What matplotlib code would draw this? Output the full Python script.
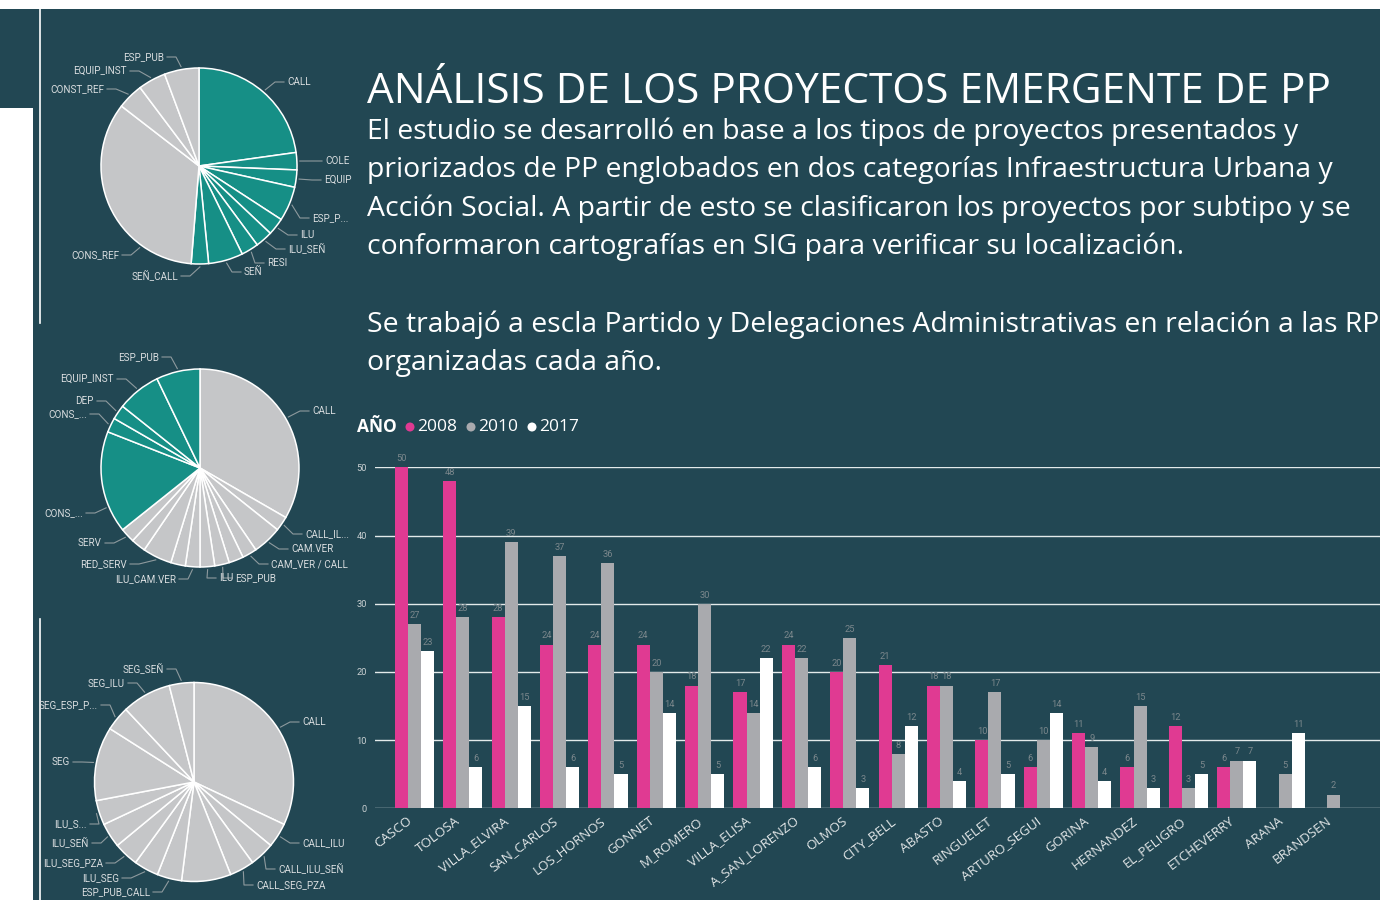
import numpy as np
import matplotlib
matplotlib.use("Agg")
import matplotlib.pyplot as plt
from matplotlib.patches import Rectangle, Circle
from matplotlib.transforms import blended_transform_factory

# ---------------- data ----------------
districts = ["CASCO", "TOLOSA", "VILLA_ELVIRA", "SAN_CARLOS", "LOS_HORNOS", "GONNET",
             "M_ROMERO", "VILLA_ELISA", "A_SAN_LORENZO", "OLMOS", "CITY_BELL", "ABASTO",
             "RINGUELET", "ARTURO_SEGUI", "GORINA", "HERNANDEZ", "EL_PELIGRO",
             "ETCHEVERRY", "ARANA", "BRANDSEN"]
y2008 = [50, 48, 28, 24, 24, 24, 18, 17, 24, 20, 21, 18, 10, 6, 11, 6, 12, 6, np.nan, np.nan]
y2010 = [27, 28, 39, 37, 36, 20, 30, 14, 22, 25, 8, 18, 17, 10, 9, 15, 3, 7, 5, 2]
y2017 = [23, 6, 15, 6, 5, 14, 5, 22, 6, 3, 12, 4, 5, 14, 4, 3, 5, 7, 11, np.nan]
years = ["2008", "2010", "2017"]

pie1_labels = ["CALL", "COLE", "EQUIP", "ESP_P...", "ILU", "ILU_SEÑ", "RESI", "SEÑ",
               "SEÑ_CALL", "CONS_REF", "CONST_REF", "EQUIP_INST", "ESP_PUB"]
pie1_values = [8, 1, 1, 2, 1, 1, 1, 2, 1, 12, 1.5, 1.6, 2]
pie1_group = ["A"] * 9 + ["B"] * 4

pie2_labels = ["CALL", "CALL_IL...", "CAM.VER", "CAM_VER / CALL", "", "ESP_PUB", "ILU",
               "ILU_CAM.VER", "", "RED_SERV", "", "SERV", "CONS_...", "CONS_...", "DEP",
               "EQUIP_INST", "ESP_PUB"]
pie2_values = [14, 1, 2, 1, 1, 1, 1, 1, 1, 2, 1, 1, 7, 1, 1, 3, 3]
pie2_group = ["B"] * 12 + ["A"] * 5

pie3_labels = ["CALL", "CALL_ILU", "CALL_ILU_SEÑ", "CALL_SEG_PZA", "", "ESP_PUB_CALL",
               "ILU_SEG", "ILU_SEG_PZA", "ILU_SEÑ", "ILU_S...", "SEG", "SEG_ESP_P...",
               "SEG_ILU", "SEG_SEÑ"]
pie3_values = [8, 1, 1, 1, 2, 1, 1, 1, 1, 1, 3, 1, 2, 1]
pie3_group = ["B"] * 14

title = "ANÁLISIS DE LOS PROYECTOS EMERGENTE DE PP"
body = ["El estudio se desarrolló en base a los tipos de proyectos presentados y",
        "priorizados de PP englobados en dos categorías Infraestructura Urbana y",
        "Acción Social. A partir de esto se clasificaron los proyectos por subtipo y se",
        "conformaron cartografías en SIG para verificar su localización.",
        "Se trabajó a escla Partido y Delegaciones Administrativas en relación a las RP",
        "organizadas cada año."]

# ---------------- style ----------------
W, H = 1380, 900
BG = "#224753"
TEAL = "#168F86"
PGRAY = "#C5C6C8"
PINK = "#E03A92"
BGRAY = "#A9AAAE"
WHITE = "#FFFFFF"
LEADER = "#8E9A9E"
PLABEL = "#D9DDDF"
group_color = {"A": TEAL, "B": PGRAY}

fig = plt.figure(figsize=(W / 100, H / 100), dpi=100, facecolor="white")
bg = fig.add_axes([0, 0, 1, 1], zorder=0)
bg.set_xlim(0, W)
bg.set_ylim(H, 0)
bg.axis("off")
bg.add_patch(Rectangle((0, 9), W, H - 9, color=BG, lw=0))
bg.add_patch(Rectangle((0, 108), 33, H - 108, color="white", lw=0))
bg.plot([40, 40], [9, 323], color="white", lw=1.2)
bg.plot([40, 40], [619, 900], color="white", lw=1.2)


def draw_pie(cx, cy, r, values, groups, labels, layout):
    ax = fig.add_axes([(cx - r) / W, 1 - (cy + r) / H, 2 * r / W, 2 * r / H], zorder=1)
    ax.pie(values, colors=[group_color[g] for g in groups], startangle=90,
           counterclock=False, radius=1.0,
           wedgeprops=dict(edgecolor="white", linewidth=1.1))
    ax.set_xlim(-1, 1)
    ax.set_ylim(-1, 1)
    ax.axis("off")
    total = float(sum(values))
    cum = 0.0
    for v, lab, lay in zip(values, labels, layout):
        mid = 90 - (cum + v / 2) / total * 360
        cum += v
        if not lab or lay is None:
            continue
        tx, ty, side = lay[:3]
        ang = np.deg2rad(lay[3] if len(lay) > 3 else mid)
        axp = cx + r * 1.03 * np.cos(ang)
        ayp = cy - r * 1.03 * np.sin(ang)
        if side == "R":
            ex, hx, ha = tx - 12, tx - 3, "left"
        else:
            ex, hx, ha = tx + 12, tx + 3, "right"
        bg.plot([axp, ex, hx], [ayp, ty, ty], color=LEADER, lw=0.8)
        bg.text(tx, ty, lab, ha=ha, va="center", fontsize=7.1, family="Roboto",
                color=PLABEL)


pie1_layout = [(287, 82, "R"), (325, 161, "R"), (324, 180, "R"), (312, 218, "R"),
               (300, 235, "R"), (288, 249, "R"), (267, 263, "R"), (244, 272, "R"),
               (178, 276, "L"), (119, 255, "L", -126), (104, 89, "L"), (127, 71, "L"),
               (164, 57, "L")]
pie2_layout = [(312, 411, "R"), (305, 534, "R"), (291, 549, "R"), (271, 564, "R"), None,
               (235, 578, "R"), (219, 578, "R"), (176, 579, "L"), None, (127, 564, "L"),
               None, (102, 543, "L"), (83, 513, "L", -157), (87, 414, "L"), (94, 401, "L"),
               (114, 379, "L"), (159, 357, "L")]
pie3_layout = [(302, 722, "R"), (302, 843, "R"), (278, 869, "R"), (256, 885, "R"), None,
               (150, 892, "L"), (119, 878, "L"), (103, 863, "L"), (89, 843, "L"),
               (87, 824, "L"), (70, 762, "L", 169), (98, 705, "L"), (125, 683, "L"),
               (164, 669, "L")]

draw_pie(199, 166, 98, pie1_values, pie1_group, pie1_labels, pie1_layout)
draw_pie(200, 468, 99, pie2_values, pie2_group, pie2_labels, pie2_layout)
draw_pie(194, 782, 99.5, pie3_values, pie3_group, pie3_labels, pie3_layout)

# ---------------- title & body text ----------------
renderer = fig.canvas.get_renderer()


def fit_text(x, y, s, target_w, size0, family, **kw):
    t = bg.text(x, y, s, fontsize=size0, family=family, color=WHITE, va="baseline", **kw)
    w = t.get_window_extent(renderer).width
    t.set_fontsize(size0 * target_w / w)
    return t


fit_text(367, 102.7, title, 965, 30, "Open Sans")
t1 = fit_text(367, 139.3, body[0], 928, 20, "Open Sans")
bsize = t1.get_fontsize()
for line, yb in zip(body[1:], [177.5, 216, 254.3, 332, 370.3]):
    bg.text(367, yb, line, fontsize=bsize, family="Open Sans", color=WHITE, va="baseline")

# ---------------- legend ----------------
bg.text(357, 427, "AÑO", fontsize=12.5, fontweight="bold", family="Open Sans",
        color=WHITE, va="center")
for yr, col, xd in zip(years, [PINK, BGRAY, WHITE], [410, 471, 532]):
    bg.add_patch(Circle((xd, 427), 4.5, color=col, lw=0))
    bg.text(xd + 7, 427, yr, fontsize=12.5, family="Open Sans", color=WHITE, va="center")

# ---------------- bar chart ----------------
ax = fig.add_axes([375 / W, 1 - 808.3 / H, 1005 / W, 341 / H], zorder=1)
ax.set_facecolor("none")
for s in ax.spines.values():
    s.set_visible(False)
x = np.arange(len(districts))
bw = 0.27
for off, vals, col in zip([-bw, 0, bw], [y2008, y2010, y2017], [PINK, BGRAY, WHITE]):
    vals = np.array(vals, dtype=float)
    m = ~np.isnan(vals)
    ax.bar(x[m] + off, vals[m], bw, color=col, zorder=2, lw=0)
    for xi, v in zip(x[m] + off, vals[m]):
        ax.annotate(f"{v:g}", (xi, v), xytext=(0, 3), textcoords="offset points",
                    ha="center", va="bottom", fontsize=6.7, family="Roboto",
                    color="#7B878C", annotation_clip=False)
ax.set_ylim(0, 50)
ax.set_xlim(-0.816, 19.96)
ax.set_yticks([0, 10, 20, 30, 40, 50])
ax.yaxis.grid(True, color="#E3EAEA", lw=1.0)
ax.set_axisbelow(True)
ax.tick_params(axis="y", length=0, pad=5.8, labelsize=6.7, labelcolor="#C9D0D2")
for lab in ax.get_yticklabels():
    lab.set_family("Roboto")
ax.set_xticks([])
trans = blended_transform_factory(ax.transData, ax.transAxes)
for i, name in enumerate(districts):
    ax.text(i - 0.08, -0.033, name, transform=trans, rotation=37, ha="right",
            va="center", rotation_mode="anchor", fontsize=9.6, family="Open Sans",
            color="#E3E7E8")

fig.savefig("out.png", dpi=100, facecolor="white")
